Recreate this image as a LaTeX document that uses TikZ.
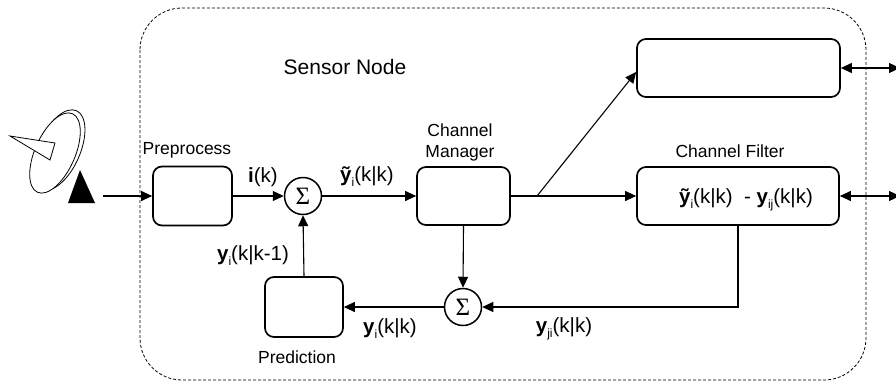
\documentclass[tikz,border=0pt]{standalone}
\usepackage{fontspec}
\setmainfont{Liberation Sans}
\newfontfamily\seriffam{Liberation Serif}
\usetikzlibrary{arrows.meta,calc}
\newcommand{\sbs}[1]{\raisebox{-0.45ex}{\fontsize{12}{13}\selectfont\mdseries #1}}
\tikzset{
  blk/.style={draw,line width=1.7pt,rounded corners=9pt,inner sep=0pt},
  sumn/.style={draw,circle,line width=1.5pt,minimum size=37pt,inner sep=0pt,font=\seriffam\fontsize{25}{27}\selectfont},
  conn/.style={line width=1.1pt,-{Triangle[length=11pt,width=10pt]}},
  dconn/.style={line width=1.1pt,{Triangle[length=11pt,width=10pt]}-{Triangle[length=11pt,width=10pt]}},
  lbl/.style={inner sep=0pt,font=\fontsize{17.5}{21}\selectfont},
  mlbl/.style={inner sep=0pt,font=\fontsize{20.5}{23}\selectfont}
}
\begin{document}
\begin{tikzpicture}[x=1pt,y=-1pt]
\useasboundingbox (0,0) rectangle (896,381);
% sensor node frame
\draw[dash pattern=on 3pt off 2pt,line width=0.8pt,rounded corners=42pt] (140,8) rectangle (866,380);
\node[inner sep=0pt,font=\fontsize{21}{25}\selectfont] (title) at (345,67) {Sensor Node};
% antenna
\begin{scope}[line width=0.8pt]
\draw[fill=white,shift={(59,150)},rotate=66] (0,0) ellipse [x radius=43pt,y radius=21pt];
\draw[fill=white,shift={(55,153)},rotate=66] (0,0) ellipse [x radius=43pt,y radius=20pt];
\draw[fill=white] (10,136) -- (55,143) -- (50,160) -- cycle;
\fill (80,170) -- (95,203) -- (68,203) -- cycle;
\end{scope}
\coordinate (ant) at (103,196);
% blocks
\node[blk,minimum width=79pt,minimum height=59pt] (pre) at (192.5,196) {};
\node[lbl] (prel) at (187,150) {Preprocess};
\node[sumn] (s1) at (303,196) {Σ};
\node[blk,minimum width=93pt,minimum height=58pt] (cm) at (463.5,196) {};
\node[lbl,align=center] (cml) at (460,142) {Channel\\Manager};
\node[blk,minimum width=202pt,minimum height=58pt] (cf) at (738,196) {};
\node[mlbl] (cft) at (746,200) {\textbf{ỹ}\sbs{i}(k|k)\ \ - \textbf{y}\sbs{ij}(k|k)};
\node[lbl] (cfl) at (730,151) {Channel Filter};
\node[blk,minimum width=203pt,minimum height=58pt] (top) at (738.5,68) {};
\node[sumn] (s2) at (463,307) {Σ};
\node[blk,minimum width=78pt,minimum height=60pt] (pred) at (304,307) {};
\node[lbl] (predl) at (297,357) {Prediction};
% connectors
\coordinate (br) at (537,196);
\coordinate (r1) at (900,68);
\coordinate (r2) at (900,196);
\draw[conn] (ant) -- (pre.west);
\draw[conn] (pre.east) -- (s1.west);
\draw[conn] (s1.east) -- (cm.west);
\draw[line width=1.1pt] (cm.east) -- (br);
\draw[conn] (br) -- (cf.west);
\draw[conn] (br) -- ($(top.west)+(0,4)$);
\draw[conn] (cm.south) -- (s2.north);
\draw[conn] (cf.south) |- (s2.east);
\draw[conn] (s2.west) -- (pred.east);
\draw[conn] (pred.north) -- (s1.south);
\draw[dconn] (top.east) -- (r1);
\draw[dconn] (cf.east) -- (r2);
% labels
\node[mlbl] (l1) at (263,177) {\textbf{i}(k)};
\node[mlbl] (l2) at (367,177) {\textbf{ỹ}\sbs{i}(k|k)};
\node[mlbl] (l3) at (253,256) {\textbf{y}\sbs{i}(k|k-1)};
\node[mlbl] (l4) at (390,329) {\textbf{y}\sbs{i}(k|k)};
\node[mlbl] (l5) at (564,329) {\textbf{y}\sbs{ji}(k|k)};
\end{tikzpicture}
\end{document}
